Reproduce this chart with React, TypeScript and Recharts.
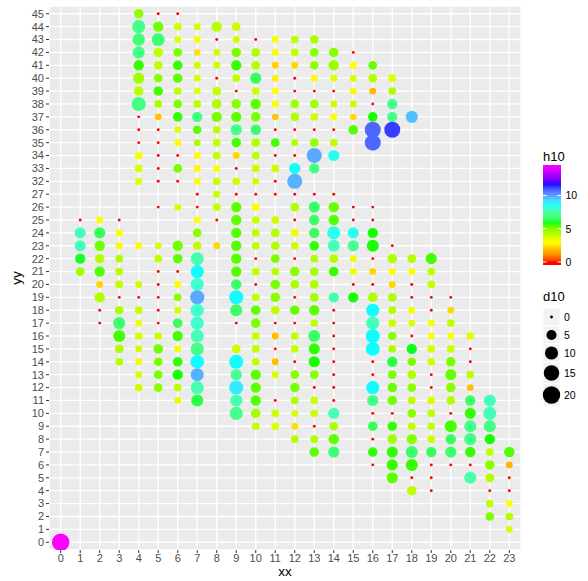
import React from 'react';
import { ScatterChart, Scatter, XAxis, YAxis, CartesianGrid } from 'recharts';

// yy levels present in the data (discrete axis: 28-31 have no trees)
const yLevels = [
  0, 1, 2, 3, 4, 5, 6, 7, 8, 9, 10, 11, 12, 13, 14, 15, 16, 17, 18, 19, 20, 21, 22, 23, 24, 25, 26, 27,
  32, 33, 34, 35, 36, 37, 38, 39, 40, 41, 42, 43, 44, 45,
];
const xTicks = [0, 1, 2, 3, 4, 5, 6, 7, 8, 9, 10, 11, 12, 13, 14, 15, 16, 17, 18, 19, 20, 21, 22, 23];

// colour-bar and size-legend breaks
const h10Breaks = [0, 5, 10];
const d10Breaks = [0, 5, 10, 15, 20];

// rainbow(6) anchors for the h10 gradient
const rampColours = ['#FF0000', '#FFFF00', '#00FF00', '#00FFFF', '#0000FF', '#FF00FF'];

// one list per xx column: [yy, h10, d10]
const xx00 = [[0, 14.6, 20]];
const xx01 = [[25, 0, 0], [24, 7.7, 6.5], [23, 7.7, 6.5], [22, 6.0, 5.3], [21, 4.6, 3.2]];
const xx02 = [[25, 2.9, 1.5], [24, 6.4, 6.5], [23, 5.2, 5.3], [22, 4.3, 4.2], [21, 5.5, 5.3], [20, 2.3, 1.5], [19, 4.3, 5.3], [18, 0, 0], [17, 0, 0]];
const xx03 = [[25, 0, 0], [24, 2.9, 1.5], [23, 2.8, 1.5], [22, 4.4, 2.2], [21, 4.3, 2.2], [20, 4.1, 2.2], [19, 0, 0], [18, 4.4, 3.2], [17, 6.6, 8], [16, 5.6, 8], [15, 4.4, 3.2], [14, 4.3, 2.2]];
const xx04 = [[45, 4.8, 4.2], [44, 7.0, 9.8], [43, 6.8, 8.5], [42, 7.0, 8], [41, 5.7, 5.3], [40, 4.6, 6.5], [39, 4.2, 4.2], [38, 7.0, 12], [37, 0, 0], [36, 0, 0], [35, 0, 0], [34, 3.0, 2.2], [33, 3.7, 2.2], [32, 3.5, 1.8], [23, 2.9, 1.5], [20, 3.9, 1.5], [19, 0, 0], [18, 4.0, 2.2], [17, 3.3, 1.5], [16, 3.7, 2.2], [15, 3.9, 1.5], [14, 3.2, 1.5], [13, 3.7, 1.5], [12, 3.9, 2.2]];
const xx05 = [[45, 0, 0], [44, 5.2, 5.3], [43, 6.8, 9.8], [42, 4.1, 4.2], [41, 4.1, 3.2], [40, 4.9, 3.2], [39, 5.6, 4.2], [38, 4.4, 2.2], [37, 2.0, 1.5], [36, 0, 0], [35, 0, 0], [34, 0, 0], [33, 0, 0], [32, 0, 0], [26, 0, 0], [23, 3.7, 1.5], [22, 4.1, 2.2], [21, 0, 0], [20, 0, 0], [19, 0, 0], [18, 0, 0], [17, 0, 0], [16, 3.9, 2.2], [15, 5.2, 4.2], [14, 5.1, 3.2], [13, 5.1, 3.2], [12, 4.9, 3.2]];
const xx06 = [[45, 0, 0], [44, 3.8, 2.2], [43, 3.5, 1.5], [42, 5.1, 3.2], [41, 5.7, 4.2], [40, 5.4, 4.2], [39, 4.1, 2.2], [38, 5.1, 3.2], [37, 5.7, 4.2], [36, 3.5, 1.5], [35, 2.9, 1.5], [34, 0, 0], [33, 5.1, 3.2], [32, 0, 0], [26, 3.7, 1.5], [23, 5.2, 5.3], [22, 5.4, 4.2], [21, 0, 0], [20, 2.9, 1.5], [19, 4.9, 2.2], [18, 3.8, 1.5], [17, 6.5, 4.2], [16, 5.6, 5.3], [15, 3.2, 1.5], [14, 5.7, 4.2], [13, 5.8, 5.3], [12, 4.2, 2.2], [11, 3.4, 1.5]];
const xx07 = [[44, 3.8, 1.5], [43, 3.1, 1.5], [42, 2.4, 1.2], [41, 4.0, 1.5], [40, 3.7, 1.5], [39, 3.5, 1.5], [38, 4.2, 2.2], [37, 7.0, 5.3], [36, 5.4, 3.2], [35, 4.4, 1.5], [34, 2.9, 1.5], [33, 2.8, 1.5], [32, 2.9, 1.5], [27, 0, 0], [26, 0, 0], [25, 2.9, 1.5], [24, 4.9, 3.2], [23, 4.1, 3.2], [22, 7.6, 9.8], [21, 8.8, 9.8], [20, 8.0, 9.8], [19, 9.9, 12], [18, 8.0, 9.8], [17, 8.0, 9.8], [16, 7.7, 9.8], [15, 7.0, 9.8], [14, 8.8, 11], [13, 9.8, 9.8], [12, 7.6, 9.8], [11, 6.2, 8]];
const xx08 = [[44, 4.2, 5.3], [43, 0, 0], [42, 3.9, 1.5], [41, 3.9, 1.5], [40, 0, 0], [39, 4.0, 3.2], [38, 4.4, 4.2], [37, 5.1, 5.3], [36, 4.1, 2.2], [35, 4.1, 2.2], [34, 4.1, 2.2], [33, 3.0, 1.5], [32, 4.0, 2.2], [27, 4.0, 1.5], [26, 4.0, 2.2], [25, 0, 0], [23, 2.3, 1.5]];
const xx09 = [[44, 3.9, 3.2], [43, 3.9, 1.5], [42, 5.1, 4.2], [41, 5.7, 5.3], [40, 4.1, 2.2], [39, 0, 0], [38, 4.9, 4.2], [37, 5.4, 5.3], [36, 7.0, 6.5], [35, 5.6, 4.2], [34, 2.3, 1.5], [33, 0, 0], [32, 3.9, 2.2], [27, 0, 0], [26, 5.4, 5.3], [25, 5.4, 5.3], [24, 5.5, 5.3], [23, 5.5, 5.3], [22, 5.5, 5.3], [21, 5.5, 5.3], [20, 6.6, 5.3], [19, 8.8, 11.8], [18, 6.6, 8], [17, 0, 0], [15, 3.9, 3.2], [14, 8.8, 11.8], [13, 7.2, 6.5], [12, 9.0, 11.8], [11, 7.6, 8], [10, 7.1, 9.8]];
const xx10 = [[43, 0, 0], [42, 4.4, 3.2], [41, 4.3, 3.2], [40, 6.5, 6.5], [39, 3.9, 2.2], [38, 5.4, 5.3], [37, 5.1, 4.2], [36, 6.6, 5.3], [35, 4.3, 3.2], [34, 4.1, 2.2], [33, 3.9, 2.2], [32, 3.9, 1.5], [27, 0, 0], [26, 2.9, 2.2], [25, 3.9, 2.2], [24, 4.1, 2.2], [23, 4.1, 2.2], [22, 0, 0], [21, 4.1, 2.2], [20, 0, 0], [19, 4.1, 2.2], [18, 5.4, 4.2], [17, 5.1, 4.2], [16, 4.1, 2.2], [15, 4.1, 2.2], [14, 4.1, 2.2], [13, 5.4, 5.3], [12, 5.4, 5.3], [11, 5.5, 5.3], [10, 4.5, 4.2], [9, 4.0, 2.2]];
const xx11 = [[43, 2.9, 1.5], [42, 3.0, 1.5], [41, 2.2, 1.5], [40, 2.7, 1.5], [39, 2.9, 1.5], [38, 3.0, 1.5], [37, 2.0, 1.2], [36, 0, 0], [35, 5.6, 3.2], [34, 0, 0], [33, 3.9, 2.2], [32, 0, 0], [27, 0, 0], [25, 3.9, 2.2], [24, 4.3, 3.2], [23, 4.3, 3.2], [22, 5.1, 3.2], [21, 4.3, 2.2], [20, 5.1, 4.2], [19, 4.9, 4.2], [18, 4.1, 3.2], [17, 0, 0], [16, 1.9, 1.5], [15, 0, 0], [14, 1.9, 1.5], [13, 3.7, 1.5], [11, 0, 0], [10, 3.9, 2.2], [9, 3.7, 2.2]];
const xx12 = [[43, 4.1, 2.2], [42, 4.1, 2.2], [41, 2.3, 1.5], [40, 0, 0], [39, 0, 0], [38, 4.6, 3.2], [37, 4.4, 3.2], [36, 0, 0], [35, 4.3, 1.5], [34, 0, 0], [33, 8.7, 6.5], [32, 9.8, 14], [27, 0, 0], [26, 4.3, 3.2], [25, 0, 0], [24, 3.3, 2.2], [23, 3.9, 2.2], [22, 0, 0], [21, 4.9, 4.2], [20, 4.4, 3.2], [19, 0, 0], [18, 5.3, 4.2], [17, 0, 0], [16, 4.1, 2.2], [15, 3.9, 2.2], [14, 0, 0], [13, 4.9, 3.2], [12, 5.1, 4.2], [11, 4.3, 2.2], [10, 3.7, 1.5], [9, 2.4, 1.5], [8, 4.3, 2.2]];
const xx13 = [[43, 4.4, 3.2], [42, 4.9, 3.2], [41, 4.8, 3.2], [40, 2.9, 1.5], [39, 0, 0], [38, 4.6, 3.2], [37, 3.9, 2.2], [36, 0, 0], [35, 4.7, 3.2], [34, 9.9, 14], [33, 7.0, 5.3], [27, 0, 0], [26, 6.6, 6.5], [25, 6.6, 5.3], [24, 6.5, 5.3], [23, 5.7, 4.2], [22, 4.3, 2.2], [21, 4.6, 3.2], [20, 4.4, 3.2], [19, 4.6, 3.2], [18, 5.4, 5.3], [17, 4.1, 2.2], [16, 6.6, 8], [15, 5.7, 6.5], [14, 5.8, 6.5], [13, 4.9, 3.2], [12, 0, 0], [11, 3.9, 2.2], [10, 3.9, 2.2], [9, 0, 0], [8, 4.3, 2.2], [7, 5.4, 4.2]];
const xx14 = [[42, 4.9, 4.2], [41, 4.7, 5.3], [40, 3.5, 1.5], [39, 0, 0], [38, 3.9, 1.5], [37, 2.9, 1.5], [36, 0, 0], [35, 4.1, 2.2], [34, 8.5, 6.5], [27, 0, 0], [26, 5.3, 5.3], [25, 5.5, 5.3], [24, 8.5, 9.8], [23, 7.7, 8], [22, 4.3, 3.2], [21, 5.7, 4.2], [19, 7.5, 5.3], [18, 0, 0], [17, 0, 0], [16, 0, 0], [15, 0, 0], [14, 0, 0], [13, 0, 0], [12, 0, 0], [11, 0, 0], [10, 7.7, 6.5], [9, 4.4, 3.2], [8, 5.4, 5.3], [7, 6.8, 6.5]];
const xx15 = [[42, 0, 0], [41, 2.9, 1.5], [40, 3.7, 1.5], [39, 2.8, 1.5], [38, 3.9, 1.5], [37, 2.3, 1.2], [36, 5.5, 4.2], [26, 0, 0], [25, 0, 0], [24, 8.5, 6.5], [23, 7.2, 6.5], [22, 3.2, 1.5], [21, 3.2, 1.5], [20, 0, 0], [19, 5.8, 5.3]];
const xx16 = [[41, 5.3, 3.2], [40, 4.3, 3.2], [39, 1.8, 1.5], [38, 0, 0], [37, 5.8, 4.2], [36, 10.8, 16.3], [35, 10.8, 16.3], [26, 0, 0], [25, 0, 0], [24, 5.8, 5.3], [23, 5.8, 8], [22, 0, 0], [21, 2.3, 1.5], [20, 0, 0], [19, 4.4, 4.2], [18, 8.8, 9.8], [17, 7.7, 9.8], [16, 8.8, 11.8], [15, 8.7, 11.8], [14, 0, 0], [13, 0, 0], [12, 8.8, 9.8], [11, 7.0, 6.5], [10, 0, 0], [9, 6.4, 4.2], [8, 0, 0], [7, 5.7, 4.2], [6, 0, 0]];
const xx17 = [[40, 3.5, 2.2], [39, 4.4, 2.2], [38, 7.1, 5.3], [37, 7.1, 5.3], [36, 11.3, 16.3], [23, 0, 0], [22, 4.3, 4.2], [21, 3.0, 1.5], [20, 2.3, 1.5], [19, 4.4, 3.2], [18, 4.3, 2.2], [17, 4.0, 2.2], [16, 4.9, 3.2], [15, 4.4, 2.2], [14, 6.2, 5.3], [13, 5.1, 3.2], [12, 5.3, 4.2], [11, 5.1, 4.2], [10, 0, 0], [9, 5.7, 4.2], [8, 4.6, 4.2], [7, 5.7, 6.5], [6, 5.7, 6.5], [5, 5.4, 6.5]];
const xx18 = [[37, 9.6, 8], [22, 4.3, 3.2], [21, 2.9, 1.5], [20, 0, 0], [19, 0, 0], [18, 3.2, 1.5], [17, 3.7, 1.5], [16, 0, 0], [15, 5.9, 5.3], [14, 5.1, 3.2], [13, 4.3, 3.2], [12, 4.9, 3.2], [11, 4.1, 2.2], [10, 4.9, 3.2], [9, 4.1, 2.2], [8, 4.9, 5.3], [7, 6.6, 8], [6, 5.7, 8], [5, 0, 0], [4, 4.1, 4.2]];
const xx19 = [[22, 5.6, 6.5], [21, 4.1, 2.2], [20, 4.1, 2.2], [19, 0, 0], [18, 0, 0], [17, 3.2, 1.5], [16, 2.9, 1.5], [15, 3.7, 2.2], [14, 3.9, 2.2], [13, 0, 0], [12, 0, 0], [11, 3.7, 2.2], [10, 4.1, 2.2], [9, 4.1, 2.2], [8, 3.9, 2.2], [7, 6.5, 5.3], [6, 0, 0], [5, 0, 0], [4, 0, 0]];
const xx20 = [[19, 0, 0], [18, 2.3, 1.5], [17, 4.1, 2.2], [16, 2.9, 1.5], [15, 3.9, 2.2], [14, 5.1, 4.2], [13, 5.3, 6.5], [12, 4.9, 4.2], [11, 4.3, 3.2], [10, 0, 0], [9, 5.6, 8], [8, 6.5, 5.3], [7, 6.6, 6.5], [6, 0, 0]];
const xx21 = [[16, 3.5, 2.2], [15, 0, 0], [14, 0, 0], [13, 4.1, 2.2], [12, 1.9, 1.5], [11, 6.6, 5.3], [10, 5.7, 6.5], [9, 7.0, 8], [8, 7.0, 8], [7, 5.7, 5.3], [6, 0, 0], [5, 7.5, 8]];
const xx22 = [[11, 7.7, 8], [10, 7.7, 9.8], [9, 7.0, 8], [8, 5.8, 5.3], [7, 4.1, 2.2], [6, 4.9, 4.2], [5, 4.3, 3.2], [4, 0, 0], [3, 4.1, 2.2], [2, 5.1, 3.2]];
const xx23 = [[7, 5.5, 5.3], [6, 1.8, 1.5], [5, 0, 0], [4, 0, 0], [3, 2.9, 1.5], [2, 4.3, 2.2], [1, 3.7, 1.5]];

const columns: [number, number[][]][] = [
  [0, xx00], [1, xx01], [2, xx02], [3, xx03], [4, xx04], [5, xx05], [6, xx06], [7, xx07],
  [8, xx08], [9, xx09], [10, xx10], [11, xx11], [12, xx12], [13, xx13], [14, xx14], [15, xx15],
  [16, xx16], [17, xx17], [18, xx18], [19, xx19], [20, xx20], [21, xx21], [22, xx22], [23, xx23],
];

type Pt = { xx: number; yy: number; yi: number; h10: number; d10: number };

const points: Pt[] = [];
columns.forEach(([xx, rows]) => {
  rows.forEach(([yy, h10, d10]) => {
    points.push({ xx, yy, yi: yLevels.indexOf(yy), h10, d10 });
  });
});

const H_MAX = Math.max(...points.map((p) => p.h10));
const D_MAX = Math.max(...points.map((p) => p.d10));

// --- colour helpers: gradient interpolated in CIE Lab between the anchors ---
const toLinear = (c: number) => {
  const v = c / 255;
  return v <= 0.04045 ? v / 12.92 : Math.pow((v + 0.055) / 1.055, 2.4);
};
const fromLinear = (c: number) => {
  const v = c <= 0.0031308 ? 12.92 * c : 1.055 * Math.pow(c, 1 / 2.4) - 0.055;
  return Math.round(Math.max(0, Math.min(1, v)) * 255);
};
const XN = 0.95047;
const ZN = 1.08883;
const hexToLab = (hex: string) => {
  const r = toLinear(parseInt(hex.slice(1, 3), 16));
  const g = toLinear(parseInt(hex.slice(3, 5), 16));
  const b = toLinear(parseInt(hex.slice(5, 7), 16));
  const X = (0.4124 * r + 0.3576 * g + 0.1805 * b) / XN;
  const Y = 0.2126 * r + 0.7152 * g + 0.0722 * b;
  const Z = (0.0193 * r + 0.1192 * g + 0.9505 * b) / ZN;
  const f = (t: number) => (t > 0.008856 ? Math.cbrt(t) : 7.787 * t + 16 / 116);
  const fx = f(X);
  const fy = f(Y);
  const fz = f(Z);
  return [116 * fy - 16, 500 * (fx - fy), 200 * (fy - fz)];
};
const labToRgb = ([L, a, bb]: number[]) => {
  const fy = (L + 16) / 116;
  const fx = fy + a / 500;
  const fz = fy - bb / 200;
  const inv = (t: number) => (t * t * t > 0.008856 ? t * t * t : (t - 16 / 116) / 7.787);
  const X = XN * inv(fx);
  const Y = inv(fy);
  const Z = ZN * inv(fz);
  const r = 3.2406 * X - 1.5372 * Y - 0.4986 * Z;
  const g = -0.9689 * X + 1.8758 * Y + 0.0415 * Z;
  const b = 0.0557 * X - 0.204 * Y + 1.057 * Z;
  return `rgb(${fromLinear(r)}, ${fromLinear(g)}, ${fromLinear(b)})`;
};
const rampLab = rampColours.map(hexToLab);

const hueColor = (h: number) => {
  const t = Math.max(0, Math.min(1, h / H_MAX)) * (rampLab.length - 1);
  const i = Math.min(rampLab.length - 2, Math.floor(t));
  const f = t - i;
  const A = rampLab[i];
  const B = rampLab[i + 1];
  return labToRgb([A[0] + (B[0] - A[0]) * f, A[1] + (B[1] - A[1]) * f, A[2] + (B[2] - A[2]) * f]);
};

// area-style size scale (ggplot range 1..6)
const dotDiameter = (d: number) => 2.9 * (1 + 5 * Math.sqrt(Math.max(0, d) / D_MAX));

const FONT = '"Liberation Sans", Arial, Helvetica, sans-serif';

const renderDot = (props: any) => {
  const { cx, cy, payload } = props;
  if (cx == null || cy == null) return <g />;
  return <circle cx={cx} cy={cy} r={dotDiameter(payload.d10) / 2} fill={hueColor(payload.h10)} />;
};

// colour bar geometry
const BAR_X = 543;
const BAR_W = 18;
const BAR_TOP = 165;
const BAR_BOTTOM = 265;
const BAR_ZERO = 262;
const BAR_PER_UNIT = (BAR_ZERO - BAR_TOP) / H_MAX;
const barY = (v: number) => BAR_ZERO - v * BAR_PER_UNIT;

// size key rows
const keyRows = [
  { top: 308, h: 18 },
  { top: 326, h: 18 },
  { top: 344, h: 18 },
  { top: 362, h: 22 },
  { top: 384, h: 22 },
];

const Legends = () => {
  const stops: React.ReactElement[] = [];
  const n = 40;
  for (let i = 0; i <= n; i++) {
    const y = BAR_TOP + ((BAR_BOTTOM - BAR_TOP) * i) / n;
    const v = (BAR_ZERO - y) / BAR_PER_UNIT;
    stops.push(<stop key={i} offset={`${(i / n) * 100}%`} stopColor={hueColor(v)} />);
  }
  return (
    <svg
      width={588}
      height={581}
      style={{ position: 'absolute', left: 0, top: 0, pointerEvents: 'none' }}
    >
      <defs>
        <linearGradient id="h10bar" x1="0" y1="0" x2="0" y2="1">
          {stops}
        </linearGradient>
      </defs>
      {/* axis titles */}
      <text x={285} y={576} textAnchor="middle" fontSize={13.5} fill="#000" fontFamily={FONT}>
        xx
      </text>
      <text
        x={0}
        y={0}
        transform="translate(21 278) rotate(-90)"
        textAnchor="middle"
        fontSize={13.5}
        fill="#000"
        fontFamily={FONT}
      >
        yy
      </text>

      {/* h10 colour bar */}
      <text x={BAR_X} y={161} fontSize={13} fill="#000" fontFamily={FONT}>
        h10
      </text>
      <rect x={BAR_X} y={BAR_TOP} width={BAR_W} height={BAR_BOTTOM - BAR_TOP} fill="url(#h10bar)" />
      {h10Breaks.map((b) => (
        <g key={b}>
          <line x1={BAR_X} x2={BAR_X + 3.6} y1={barY(b)} y2={barY(b)} stroke="#fff" strokeWidth={1} />
          <line x1={BAR_X + BAR_W - 3.6} x2={BAR_X + BAR_W} y1={barY(b)} y2={barY(b)} stroke="#fff" strokeWidth={1} />
          <text x={BAR_X + BAR_W + 4.5} y={barY(b) + 3.8} fontSize={10.5} fill="#000" fontFamily={FONT}>
            {b}
          </text>
        </g>
      ))}

      {/* d10 size keys */}
      <text x={BAR_X} y={301} fontSize={13} fill="#000" fontFamily={FONT}>
        d10
      </text>
      {d10Breaks.map((b, i) => {
        const row = keyRows[i];
        const cy = row.top + row.h / 2;
        return (
          <g key={b}>
            <rect x={BAR_X} y={row.top} width={17} height={row.h} fill="#F2F2F2" stroke="#fff" strokeWidth={1} />
            <circle cx={BAR_X + 8.5} cy={cy} r={dotDiameter(b) / 2} fill="#000" />
            <text x={BAR_X + 21} y={cy + 3.8} fontSize={10.5} fill="#000" fontFamily={FONT}>
              {b}
            </text>
          </g>
        );
      })}
    </svg>
  );
};

export default function App() {
  const tickStyle = { fill: '#4D4D4D', fontSize: 11, fontFamily: FONT };
  return (
    <div style={{ position: 'absolute', left: 0, top: 0, width: 588, height: 581, background: '#fff' }}>
      <ScatterChart width={588} height={581} margin={{ top: 6, right: 67, bottom: 0, left: 0 }}>
        <CartesianGrid fill="#EBEBEB" stroke="#FFFFFF" strokeWidth={1.3} />
        <XAxis
          type="number"
          dataKey="xx"
          domain={[-0.6, 23.6]}
          ticks={xTicks}
          interval={0}
          allowDataOverflow
          height={31}
          axisLine={false}
          tickSize={3}
          tickMargin={1}
          tickLine={{ stroke: '#333333' }}
          tick={tickStyle}
        />
        <YAxis
          type="number"
          dataKey="yi"
          domain={[-0.6, yLevels.length - 0.4]}
          ticks={yLevels.map((_, i) => i)}
          tickFormatter={(i: number) => String(yLevels[i])}
          interval={0}
          allowDataOverflow
          width={49}
          axisLine={false}
          tickSize={3}
          tickMargin={2}
          tickLine={{ stroke: '#333333' }}
          tick={tickStyle}
        />
        <Scatter data={points} shape={renderDot} isAnimationActive={false} />
      </ScatterChart>
      <Legends />
    </div>
  );
}
